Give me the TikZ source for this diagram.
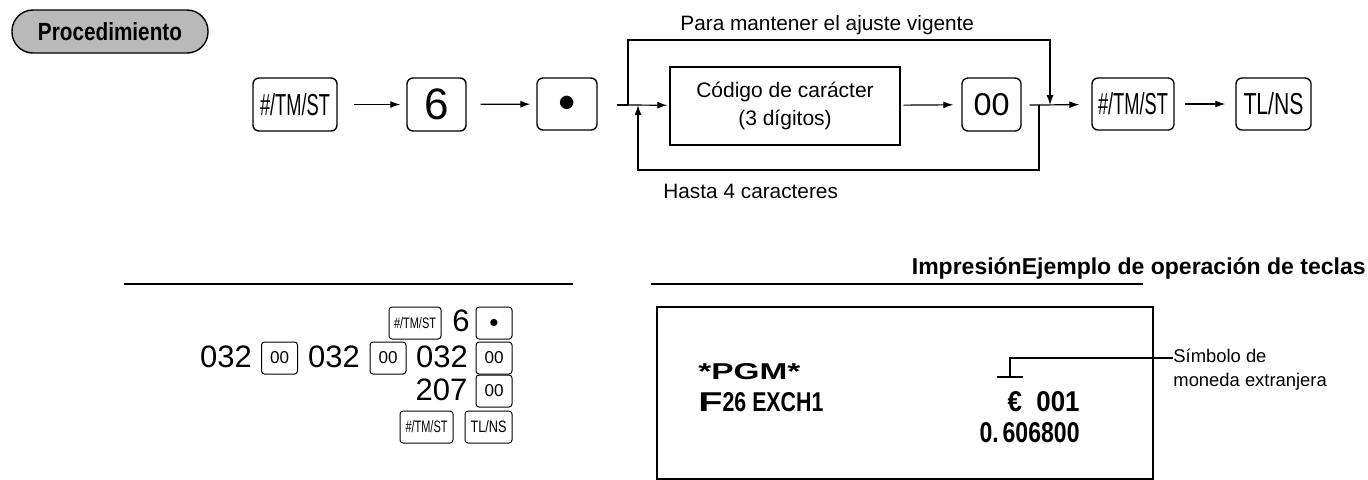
\documentclass[tikz,border=0pt]{standalone}
\usepackage{fontspec}
\setmainfont{Liberation Sans}
\usetikzlibrary{arrows.meta}
\newcommand{\rb}[3]{\resizebox{#1pt}{#2pt}{#3}}
\begin{document}
\begin{tikzpicture}[x=0.5pt,y=-0.5pt,
 key/.style={draw,rounded corners=3pt,line width=0.7pt,inner sep=0pt},
 skey/.style={draw,rounded corners=1.5pt,line width=0.5pt,inner sep=0pt},
 ar/.style={-{Latex[length=5pt,width=3.5pt]},line width=0.6pt},
 ln/.style={line width=0.6pt},
 txt/.style={font=\fontsize{10.4}{12}\selectfont,inner sep=0pt}]
\useasboundingbox (0,0) rectangle (1368,479);
\node[draw,fill=gray!55,rounded corners=10.5pt,minimum width=98pt,minimum height=21.5pt,line width=0.7pt] (pr) at (110,31.5) {\textbf{\rb{72}{9}{Procedimiento}}};
% keys
\node[key,minimum width=42pt,minimum height=26.5pt] (k1) at (295,104.5) {\rb{35}{11}{\#/TM/ST}};
\node[key,minimum width=29.5pt,minimum height=26.5pt,font=\fontsize{22}{22}\selectfont] (k2) at (436.5,104.5) {6};
\node[key,minimum width=30pt,minimum height=26pt,font=\fontsize{16}{16}\selectfont] (k3) at (567,104) {$\bullet$};
\node[draw,line width=0.7pt,minimum width=115pt,minimum height=39pt,align=center,font=\fontsize{10.5}{14}\selectfont] (code) at (785,106) {Código de carácter\\(3 dígitos)};
\node[key,minimum width=29.5pt,minimum height=26.5pt] (k4) at (991.5,104.5) {\rb{18}{11}{00}};
\node[key,minimum width=41pt,minimum height=26pt] (k5) at (1133,104) {\rb{35}{11}{\#/TM/ST}};
\node[key,minimum width=37.5pt,minimum height=26pt] (k6) at (1273.5,104) {\rb{30}{11}{TL/NS}};
\coordinate (s3) at (617,105);
\coordinate (jl) at (628,105); \coordinate (jb) at (638,105);
\coordinate (jr) at (1039,105); \coordinate (jt) at (1050,105);
\draw[ar,shorten <=8pt,shorten >=3pt] (k1) -- (k2);
\draw[ar,shorten <=7pt,shorten >=3pt] (k2) -- (k3);
\draw[ln] (s3) -- (jl);
\draw[ar,shorten >=1pt] (jl) -- (code);
\draw[ar,shorten <=1.5pt,shorten >=4pt] (code) -- (k4);
\draw[ln,shorten <=4pt] (k4) -- (jr);
\draw[ar,shorten >=6pt] (jr) -- (k5);
\draw[ar,shorten <=5pt,shorten >=5pt] (k5) -- (k6);
\draw[ar] (jl) |- (1050,40) -- (jt);
\draw[ar] (jr) |- (638,170) -- (jb);
\node[txt,anchor=west] (t1) at (680,25) {Para mantener el ajuste vigente};
\node[txt,anchor=west] (t2) at (663,191) {Hasta 4 caracteres};
% bottom
\coordinate (l1a) at (124,284); \coordinate (l1b) at (573,284);
\draw[line width=0.9pt] (l1a) -- (l1b);
\coordinate (l2a) at (651,284); \coordinate (l2b) at (1143,284);
\draw[line width=0.9pt] (l2a) -- (l2b);
\node[anchor=east,inner sep=0pt,font=\bfseries\fontsize{11.5}{12}\selectfont] (hd) at (1366,268) {ImpresiónEjemplo de operación de teclas};
% key sequence
\tikzset{sk/.style={skey,minimum height=16pt,minimum width=18pt}, nt/.style={inner sep=0pt,font=\fontsize{15.5}{16}\selectfont}}
\node[sk] (r1c) at (494,323) {\fontsize{9}{9}\selectfont$\bullet$};
\node[nt] (r1b) at (461,321) {6};
\node[sk,minimum width=26pt] (r1a) at (415,323) {\rb{21}{5.5}{\#/TM/ST}};
\node[sk] (r2f) at (494,358) {\rb{9.5}{6}{00}};
\node[nt] (r2e) at (442,357) {032};
\node[sk] (r2d) at (388,358) {\rb{9.5}{6}{00}};
\node[nt] (r2c) at (334,357) {032};
\node[sk] (r2b) at (279.5,358) {\rb{9.5}{6}{00}};
\node[nt] (r2a) at (226,357) {032};
\node[sk] (r3b) at (494,391) {\rb{9.5}{6}{00}};
\node[nt] (r3a) at (441.5,390) {207};
\node[sk,minimum width=23.5pt] (r4b) at (488.5,427) {\rb{18}{6}{TL/NS}};
\node[sk,minimum width=26.5pt] (r4a) at (426.5,427) {\rb{21}{6}{\#/TM/ST}};
% receipt
\node[draw,line width=0.9pt,minimum width=248pt,minimum height=86pt,anchor=north west] (rc) at (656,306) {};
\node[anchor=south west,inner sep=0pt] (p1) at (698,380) {\textbf{\rb{51}{8}{*PGM*}}};
\node[anchor=south west,inner sep=0pt] (p2) at (698,412) {\textbf{\rb{62.5}{9.5}{\scalebox{1.3}[1]{F}\scalebox{0.7}[1]{26 EXCH1}}}};
\node[anchor=south east,inner sep=0pt] (p3) at (1080,412) {\textbf{\rb{36}{10}{\scalebox{0.8}[1]{€\ \ 001}}}};
\node[anchor=south east,inner sep=0pt] (p4) at (1080,443) {\textbf{\rb{50}{10}{0.\,606800}}};
\coordinate (s1) at (1010,377); \coordinate (s0) at (997,377); \coordinate (s2) at (1023,377);
\draw[line width=0.6pt] (s0) -- (s2);
\node[anchor=west,inner sep=0pt,align=left,font=\fontsize{9.2}{12}\selectfont] (sym) at (1173,370) {Símbolo de\\moneda extranjera};
\draw[line width=0.6pt] (s1) -- (1010,358) -- (sym.west |- 0,358);
\end{tikzpicture}
\end{document}
